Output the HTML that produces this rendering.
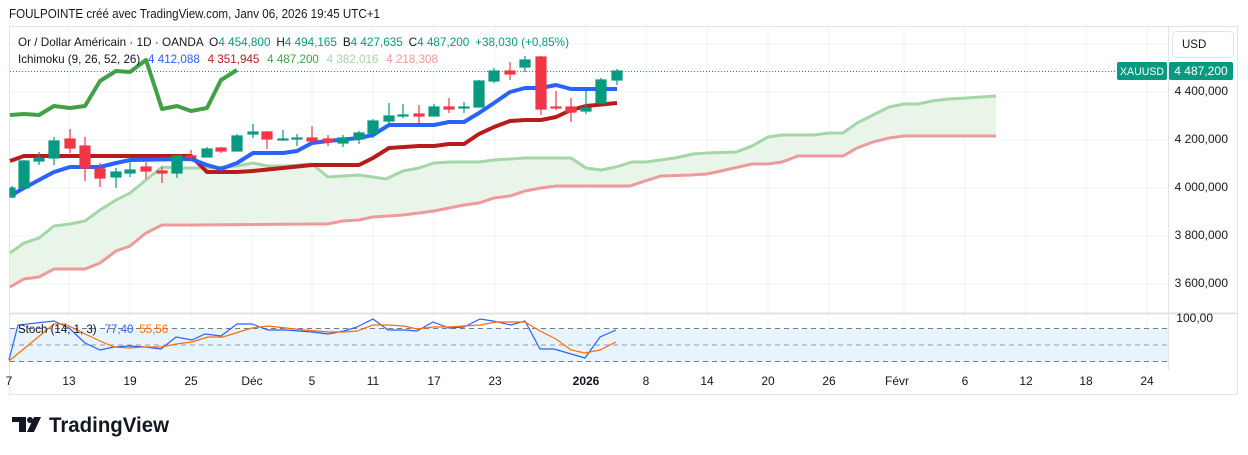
<!DOCTYPE html>
<html><head><meta charset="utf-8"><style>
html,body{margin:0;padding:0;background:#fff;}
body{width:1248px;height:455px;overflow:hidden;position:relative;font-family:"Liberation Sans",sans-serif;}
svg{position:absolute;left:0;top:0;}
</style></head><body>
<svg width="1248" height="455" viewBox="0 0 1248 455" xmlns="http://www.w3.org/2000/svg" font-family="Liberation Sans, sans-serif">
<rect x="0" y="0" width="1248" height="455" fill="#fff"/>
<text x="9" y="18" font-size="12.5" fill="#131722" textLength="371" lengthAdjust="spacingAndGlyphs">FOULPOINTE créé avec TradingView.com, Janv 06, 2026 19:45 UTC+1</text>
<rect x="9.5" y="26.5" width="1228" height="368" fill="none" stroke="#e0e3eb"/>
<g stroke="#f0f3fa" stroke-width="1">
<line x1="10" y1="44" x2="1168" y2="44"/><line x1="10" y1="92" x2="1168" y2="92"/><line x1="10" y1="140" x2="1168" y2="140"/><line x1="10" y1="188" x2="1168" y2="188"/><line x1="10" y1="236" x2="1168" y2="236"/><line x1="10" y1="284" x2="1168" y2="284"/>
<line x1="69" y1="27" x2="69" y2="370"/><line x1="130" y1="27" x2="130" y2="370"/><line x1="191" y1="27" x2="191" y2="370"/><line x1="252" y1="27" x2="252" y2="370"/><line x1="312" y1="27" x2="312" y2="370"/><line x1="373" y1="27" x2="373" y2="370"/><line x1="434" y1="27" x2="434" y2="370"/><line x1="495" y1="27" x2="495" y2="370"/><line x1="586" y1="27" x2="586" y2="370"/><line x1="646" y1="27" x2="646" y2="370"/><line x1="707" y1="27" x2="707" y2="370"/><line x1="768" y1="27" x2="768" y2="370"/><line x1="829" y1="27" x2="829" y2="370"/><line x1="904" y1="27" x2="904" y2="370"/><line x1="965" y1="27" x2="965" y2="370"/><line x1="1026" y1="27" x2="1026" y2="370"/><line x1="1086" y1="27" x2="1086" y2="370"/><line x1="1147" y1="27" x2="1147" y2="370"/>
</g>
<line x1="1168.5" y1="27" x2="1168.5" y2="370" stroke="#e0e3eb"/>
<line x1="10" y1="313.5" x2="1237" y2="313.5" stroke="#e0e3eb" stroke-width="2"/>
<path d="M10,253 L24,243 L39,238 L54,226 L70,224 L85,221 L100,210 L116,200 L130,193 L146,180 L162,167 L177,168 L191,168 L207,168 L237,166 L253,163 L267,166 L283,166 L312,164 L328,177 L359,175 L386,179 L403,171 L419,168 L434,163 L449,162 L479,162 L494,160 L525,158 L571,158 L586,168 L601,170 L616,167 L632,162 L646,162 L675,158 L693,154 L707,153 L736,152 L752,146 L768,137 L782,135 L814,135 L829,133 L843,133 L857,123 L873,115 L889,107 L904,104 L918,104 L932,101 L948,99 L966,98 L996,96 L996,136 L904,136 L889,138 L873,142 L857,148 L843,156 L798,156 L782,162 L768,164 L752,164 L721,171 L707,174 L691,175 L661,176 L645,181 L630,186 L571,186 L556,186 L541,188 L525,191 L510,196 L494,198 L479,203 L464,205 L449,208 L434,211 L419,213 L403,215 L389,216 L373,217 L359,220 L343,221 L327,224 L312,224 L191,225 L162,225 L146,233 L130,246 L116,251 L100,263 L85,269 L54,269 L39,277 L24,279 L10,287 Z" fill="#e8f4e8" opacity="0.9"/>
<polyline fill="none" stroke="#a5d6a7" stroke-width="3" points="10,253 24,243 39,238 54,226 70,224 85,221 100,210 116,200 130,193 146,180 162,167 177,168 191,168 207,168 237,166 253,163 267,166 283,166 312,164 328,177 359,175 386,179 403,171 419,168 434,163 449,162 479,162 494,160 525,158 571,158 586,168 601,170 616,167 632,162 646,162 675,158 693,154 707,153 736,152 752,146 768,137 782,135 814,135 829,133 843,133 857,123 873,115 889,107 904,104 918,104 932,101 948,99 966,98 996,96"/>
<polyline fill="none" stroke="#ef9a9a" stroke-width="3" points="10,287 24,279 39,277 54,269 85,269 100,263 116,251 130,246 146,233 162,225 191,225 312,224 327,224 343,221 359,220 373,217 389,216 403,215 419,213 434,211 449,208 464,205 479,203 494,198 510,196 525,191 541,188 556,186 630,186 645,181 661,176 691,175 707,174 721,171 752,164 768,164 782,162 798,156 843,156 857,148 873,142 889,138 904,136 996,136"/>
<polyline fill="none" stroke="#43a047" stroke-width="4" stroke-linejoin="round" points="10,115 24,114 39,115 54,106 70,108 85,106 100,81 116,71 130,72 146,60 162,109 177,106 191,111 207,108 221,80 237,70"/>
<polyline fill="none" stroke="#b71c1c" stroke-width="4" stroke-linejoin="round" points="10,161 24,156 191,156 207,172 237,172 253,171 283,168 312,165 359,165 373,158 389,148 419,146 434,146 449,144 464,144 479,134 494,127 510,121 525,120 541,120 556,117 571,110 586,106 617,103"/>
<polyline fill="none" stroke="#2962ff" stroke-width="4" stroke-linejoin="round" points="10,196 24,188 39,180 54,172 70,167 100,167 116,163 130,160 191,159 207,165 221,169 237,163 253,153 283,153 297,151 312,143 328,141 359,138 373,135 389,125 434,125 449,122 464,122 479,113 494,103 510,92 525,88 541,88 556,85 571,89 617,89"/>
<line x1="10" y1="71.5" x2="1117" y2="71.5" stroke="#089981" stroke-dasharray="1,2"/>
<g stroke-width="1.2">
<g stroke="#089981" fill="#089981">
<line x1="12" y1="186" x2="12" y2="198"/><rect x="10" y="188" width="5" height="9"/>
<line x1="24" y1="160" x2="24" y2="188"/><rect x="19" y="161" width="10" height="27"/>
<line x1="39" y1="152" x2="39" y2="165"/><rect x="34" y="158" width="10" height="3"/>
<line x1="54" y1="137" x2="54" y2="165"/><rect x="49" y="141" width="10" height="17"/>
<line x1="116" y1="168" x2="116" y2="188"/><rect x="111" y="172" width="10" height="5"/>
<line x1="130" y1="157" x2="130" y2="177"/><rect x="125" y="170" width="10" height="3"/>
<line x1="177" y1="155" x2="177" y2="178"/><rect x="172" y="156" width="10" height="17"/>
<line x1="207" y1="147" x2="207" y2="157"/><rect x="202" y="149" width="10" height="8"/>
<line x1="237" y1="134" x2="237" y2="151"/><rect x="232" y="136" width="10" height="15"/>
<line x1="253" y1="124" x2="253" y2="138"/><rect x="248" y="132" width="10" height="2"/>
<line x1="283" y1="130" x2="283" y2="141"/><rect x="278" y="139" width="10" height="1"/>
<line x1="297" y1="134" x2="297" y2="146"/><rect x="292" y="138" width="10" height="1"/>
<line x1="343" y1="135" x2="343" y2="147"/><rect x="338" y="138" width="10" height="5"/>
<line x1="359" y1="131" x2="359" y2="144"/><rect x="354" y="133" width="10" height="6"/>
<line x1="373" y1="119" x2="373" y2="138"/><rect x="368" y="121" width="10" height="12"/>
<line x1="389" y1="103" x2="389" y2="124"/><rect x="384" y="116" width="10" height="5"/>
<line x1="403" y1="104" x2="403" y2="118"/><rect x="398" y="115" width="10" height="1"/>
<line x1="434" y1="104" x2="434" y2="116"/><rect x="429" y="107" width="10" height="9"/>
<line x1="464" y1="102" x2="464" y2="113"/><rect x="459" y="107" width="10" height="1"/>
<line x1="479" y1="80" x2="479" y2="107"/><rect x="474" y="81" width="10" height="26"/>
<line x1="494" y1="68" x2="494" y2="83"/><rect x="489" y="71" width="10" height="10"/>
<line x1="525" y1="56" x2="525" y2="72"/><rect x="520" y="60" width="10" height="7"/>
<line x1="586" y1="91" x2="586" y2="114"/><rect x="581" y="108" width="10" height="3"/>
<line x1="601" y1="78" x2="601" y2="103"/><rect x="596" y="80" width="10" height="23"/>
<line x1="617" y1="69" x2="617" y2="85"/><rect x="612" y="71" width="10" height="9"/>
</g>
<g stroke="#f23645" fill="#f23645">
<line x1="70" y1="129" x2="70" y2="153"/><rect x="65" y="139" width="10" height="9"/>
<line x1="85" y1="137" x2="85" y2="181"/><rect x="80" y="146" width="10" height="22"/>
<line x1="100" y1="163" x2="100" y2="187"/><rect x="95" y="169" width="10" height="9"/>
<line x1="146" y1="162" x2="146" y2="179"/><rect x="141" y="167" width="10" height="4"/>
<line x1="162" y1="167" x2="162" y2="183"/><rect x="157" y="171" width="10" height="2"/>
<line x1="191" y1="150" x2="191" y2="160"/><rect x="186" y="156" width="10" height="1"/>
<line x1="221" y1="147" x2="221" y2="153"/><rect x="216" y="148" width="10" height="3"/>
<line x1="267" y1="131" x2="267" y2="149"/><rect x="262" y="132" width="10" height="7"/>
<line x1="312" y1="126" x2="312" y2="141"/><rect x="307" y="138" width="10" height="3"/>
<line x1="328" y1="135" x2="328" y2="146"/><rect x="323" y="139" width="10" height="3"/>
<line x1="419" y1="105" x2="419" y2="123"/><rect x="414" y="114" width="10" height="2"/>
<line x1="449" y1="98" x2="449" y2="113"/><rect x="444" y="107" width="10" height="2"/>
<line x1="510" y1="62" x2="510" y2="80"/><rect x="505" y="71" width="10" height="3"/>
<line x1="541" y1="56" x2="541" y2="115"/><rect x="536" y="57" width="10" height="52"/>
<line x1="556" y1="91" x2="556" y2="110"/><rect x="551" y="107" width="10" height="1"/>
<line x1="571" y1="98" x2="571" y2="122"/><rect x="566" y="107" width="10" height="5"/>
</g>
</g>
<text x="18" y="46" font-size="12" fill="#131722" textLength="551" lengthAdjust="spacingAndGlyphs">Or / Dollar Américain · 1D · OANDA <tspan dx="3">O</tspan><tspan fill="#089981">4 454,800</tspan><tspan dx="6">H</tspan><tspan fill="#089981">4 494,165</tspan><tspan dx="6">B</tspan><tspan fill="#089981">4 427,635</tspan><tspan dx="6">C</tspan><tspan fill="#089981">4 487,200</tspan><tspan dx="6" fill="#089981">+38,030 (+0,85%)</tspan></text>
<text x="18" y="63" font-size="12" fill="#131722" textLength="420" lengthAdjust="spacingAndGlyphs">Ichimoku (9, 26, 52, 26)<tspan dx="8" fill="#2962ff">4 412,088</tspan><tspan dx="8" fill="#b71c1c">4 351,945</tspan><tspan dx="8" fill="#43a047">4 487,200</tspan><tspan dx="8" fill="#a5d6a7">4 382,016</tspan><tspan dx="8" fill="#ef9a9a">4 218,308</tspan></text>
<rect x="1172.5" y="31.5" width="61" height="26" rx="4" fill="#fff" stroke="#e0e3eb"/>
<text x="1182" y="48" font-size="11.5" fill="#131722">USD</text>
<rect x="1117" y="62" width="50" height="18" rx="2" fill="#089981"/>
<text x="1142" y="75" font-size="11" fill="#fff" text-anchor="middle" textLength="44" lengthAdjust="spacingAndGlyphs">XAUUSD</text>
<rect x="1169" y="62" width="64" height="18" rx="2" fill="#089981"/>
<text x="1201" y="75" font-size="12" fill="#fff" text-anchor="middle">4 487,200</text>
<g font-size="12" fill="#131722" text-anchor="end">
<text x="1228" y="95">4 400,000</text><text x="1228" y="143">4 200,000</text><text x="1228" y="191">4 000,000</text><text x="1228" y="239">3 800,000</text><text x="1228" y="287">3 600,000</text><text x="1213" y="322">100,00</text>
</g>
<rect x="10" y="328" width="1158" height="34" fill="#e3f2fd" opacity="0.85"/>
<g stroke="#787b86" stroke-dasharray="5,4" stroke-width="1">
<line x1="10" y1="328.5" x2="1168" y2="328.5"/><line x1="10" y1="361.5" x2="1168" y2="361.5"/>
</g>
<line x1="10" y1="345" x2="1168" y2="345" stroke="#9598a1" stroke-dasharray="5,4"/>
<polyline fill="none" stroke="#2962ff" stroke-width="1.2" points="9,360 18,325 54,321 69,328 85,343 100,350 114,347 129,346 145,347 161,349 176,337 192,340 205,334 221,336 237,324 252,324 268,330 286,330 312,332 328,334 344,331 357,327 373,319 388,330 404,330 417,331 433,322 449,328 464,327 480,319 493,321 511,325 525,321 540,349 554,349 585,358 600,337 616,330"/>
<polyline fill="none" stroke="#ff6d00" stroke-width="1.2" points="9,361 54,324 65,324 83,333 100,341 114,347 129,348 145,347 161,347 176,344 192,342 208,337 223,337 239,332 252,328 268,326 286,328 304,330 328,332 344,332 357,331 373,325 388,325 404,326 417,329 433,327 449,327 464,326 480,325 496,322 509,322 525,322 540,331 556,339 571,350 585,353 600,350 616,342"/>
<text x="18" y="333" font-size="11.5" fill="#131722">Stoch (14, 1, 3)<tspan dx="8" fill="#2962ff">77,40</tspan><tspan dx="6" fill="#ff6d00">55,56</tspan></text>
<g font-size="12" fill="#131722" text-anchor="middle">
<text x="9" y="385">7</text><text x="69" y="385">13</text><text x="130" y="385">19</text><text x="191" y="385">25</text><text x="252" y="385">Déc</text><text x="312" y="385">5</text><text x="373" y="385">11</text><text x="434" y="385">17</text><text x="495" y="385">23</text><text x="586" y="385" font-weight="bold">2026</text><text x="646" y="385">8</text><text x="707" y="385">14</text><text x="768" y="385">20</text><text x="829" y="385">26</text><text x="897" y="385">Févr</text><text x="965" y="385">6</text><text x="1026" y="385">12</text><text x="1086" y="385">18</text><text x="1147" y="385">24</text>
</g>
<g fill="#131722">
<rect x="12" y="417" width="14" height="5"/><rect x="19" y="417" width="7" height="15"/>
<circle cx="30" cy="420" r="3"/>
<polygon points="34,417 41,417 34,432 27,432"/>
</g>
<text x="49" y="432" font-size="21" font-weight="bold" fill="#131722" textLength="120" lengthAdjust="spacingAndGlyphs">TradingView</text>
</svg>
</body></html>
